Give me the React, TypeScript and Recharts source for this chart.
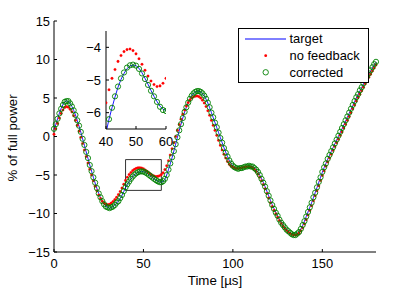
import React from 'react';
import { ComposedChart, Line, XAxis, YAxis, ReferenceArea, Legend, CartesianGrid } from 'recharts';

const FONT = "'Liberation Sans', Arial, Helvetica, sans-serif";

// sample times in µs (one sample per µs)
const TIME: number[] = Array.from({ length: 181 }, (_, i) => i);

const TARGET = [
  0.9, 1.55, 2.3, 3.0, 3.65, 4.15, 4.5, 4.62, 4.55, 4.3,
  3.9, 3.4, 2.8, 2.1, 1.35, 0.55, -0.3, -1.15, -2.0, -2.85,
  -3.7, -4.5, -5.3, -6.05, -6.75, -7.4, -7.95, -8.4, -8.8, -9.05,
  -9.22, -9.3, -9.25, -9.1, -8.9, -8.65, -8.38, -8.05, -7.65, -7.15,
  -6.62, -6.2, -5.85, -5.52, -5.22, -4.98, -4.8, -4.65, -4.57, -4.54,
  -4.56, -4.64, -4.78, -4.95, -5.13, -5.32, -5.5, -5.66, -5.8, -5.9,
  -5.93, -5.85, -5.55, -5.0, -4.3, -3.55, -2.75, -1.9, -1.0, -0.1,
  0.75, 1.6, 2.4, 3.15, 3.8, 4.4, 4.9, 5.3, 5.58, 5.76,
  5.85, 5.87, 5.78, 5.55, 5.25, 4.85, 4.35, 3.75, 3.1, 2.45,
  1.8, 1.15, 0.5, -0.15, -0.8, -1.45, -2.05, -2.6, -3.1, -3.5,
  -3.8, -4.0, -4.1, -4.15, -4.13, -4.08, -4.0, -3.93, -3.88, -3.85,
  -3.86, -3.92, -4.05, -4.3, -4.6, -5.0, -5.45, -5.95, -6.5, -7.1,
  -7.7, -8.3, -8.85, -9.35, -9.85, -10.3, -10.75, -11.15, -11.5, -11.8,
  -12.05, -12.3, -12.5, -12.65, -12.72, -12.75, -12.6, -12.35, -12.0, -11.55,
  -11.0, -10.4, -9.8, -9.2, -8.6, -7.95, -7.3, -6.65, -5.95, -5.3,
  -4.65, -4.05, -3.5, -2.95, -2.45, -1.95, -1.45, -0.95, -0.45, 0.0,
  0.5, 1.0, 1.5, 2.0, 2.5, 3.0, 3.5, 4.0, 4.5, 5.0,
  5.45, 5.9, 6.35, 6.8, 7.25, 7.7, 8.1, 8.5, 8.9, 9.3,
  9.65,
];

const NO_FEEDBACK = [
  0.3, 1.0, 1.7, 2.4, 3.0, 3.45, 3.78, 3.88, 3.8, 3.55,
  3.2, 2.7, 2.1, 1.45, 0.7, -0.1, -0.9, -1.75, -2.6, -3.45,
  -4.25, -5.0, -5.75, -6.45, -7.05, -7.6, -8.05, -8.4, -8.65, -8.8,
  -8.85, -8.8, -8.65, -8.45, -8.2, -7.9, -7.55, -7.15, -6.7, -6.2,
  -5.7, -5.3, -4.95, -4.68, -4.43, -4.25, -4.13, -4.07, -4.05, -4.1,
  -4.2, -4.35, -4.52, -4.7, -4.88, -5.03, -5.14, -5.2, -5.18, -5.1,
  -4.95, -4.7, -4.3, -3.8, -3.15, -2.4, -1.6, -0.8, 0.0, 0.8,
  1.55, 2.25, 2.9, 3.45, 3.95, 4.4, 4.75, 5.0, 5.15, 5.23,
  5.25, 5.18, 5.0, 4.72, 4.35, 3.9, 3.35, 2.75, 2.1, 1.45,
  0.8, 0.15, -0.5, -1.15, -1.75, -2.3, -2.8, -3.25, -3.6, -3.85,
  -4.0, -4.1, -4.15, -4.15, -4.1, -4.05, -4.0, -3.95, -3.92, -3.93,
  -3.98, -4.08, -4.27, -4.55, -4.9, -5.3, -5.75, -6.25, -6.8, -7.4,
  -8.0, -8.6, -9.1, -9.6, -10.05, -10.5, -10.9, -11.3, -11.65, -11.95,
  -12.2, -12.42, -12.6, -12.72, -12.78, -12.8, -12.72, -12.55, -12.25, -11.85,
  -11.35, -10.8, -10.2, -9.6, -9.0, -8.35, -7.7, -7.05, -6.4, -5.7,
  -5.05, -4.45, -3.85, -3.3, -2.8, -2.3, -1.8, -1.3, -0.8, -0.35,
  0.15, 0.6, 1.1, 1.6, 2.1, 2.6, 3.1, 3.6, 4.1, 4.6,
  5.05, 5.5, 5.95, 6.4, 6.85, 7.3, 7.7, 8.1, 8.5, 8.9,
  9.3,
];

const CORRECTED = [
  1.0, 1.6, 2.3, 3.0, 3.6, 4.1, 4.5, 4.6, 4.6, 4.3,
  3.9, 3.4, 2.8, 2.1, 1.4, 0.6, -0.3, -1.1, -2.0, -2.8,
  -3.7, -4.5, -5.3, -6.0, -6.7, -7.4, -7.9, -8.4, -8.8, -9.1,
  -9.2, -9.3, -9.2, -9.1, -8.9, -8.6, -8.4, -8.0, -7.6, -7.1,
  -6.6, -6.2, -5.85, -5.5, -5.2, -4.95, -4.77, -4.62, -4.55, -4.53,
  -4.56, -4.66, -4.8, -4.97, -5.15, -5.33, -5.5, -5.67, -5.82, -5.92,
  -5.95, -5.8, -5.5, -5.0, -4.3, -3.5, -2.7, -1.9, -1.0, -0.1,
  0.8, 1.6, 2.4, 3.2, 3.8, 4.4, 4.9, 5.3, 5.6, 5.8,
  5.9, 5.9, 5.8, 5.6, 5.3, 4.9, 4.4, 3.8, 3.1, 2.5,
  1.8, 1.2, 0.5, -0.2, -0.8, -1.5, -2.1, -2.6, -3.1, -3.5,
  -3.8, -4.0, -4.1, -4.2, -4.1, -4.1, -4.0, -3.9, -3.9, -3.8,
  -3.9, -3.9, -4.1, -4.3, -4.6, -5.0, -5.5, -6.0, -6.5, -7.1,
  -7.7, -8.3, -8.9, -9.4, -9.9, -10.3, -10.8, -11.2, -11.5, -11.8,
  -12.1, -12.3, -12.5, -12.7, -12.8, -12.8, -12.6, -12.4, -12.0, -11.5,
  -11.0, -10.4, -9.8, -9.2, -8.6, -7.9, -7.3, -6.6, -5.9, -5.3,
  -4.6, -4.0, -3.5, -2.9, -2.4, -1.9, -1.4, -0.9, -0.4, 0.1,
  0.6, 1.1, 1.6, 2.1, 2.6, 3.1, 3.6, 4.1, 4.6, 5.1,
  5.5, 6.0, 6.4, 6.9, 7.3, 7.8, 8.2, 8.6, 9.0, 9.4,
  9.7,
];

const SERIES_NAMES = ['target', 'no feedback', 'corrected'];

const MAIN_X_DOMAIN = [0, 180];
const MAIN_X_TICKS = [0, 50, 100, 150];
const MAIN_Y_DOMAIN = [-15, 15];
const MAIN_Y_TICKS = [-15, -10, -5, 0, 5, 10, 15];

const INSET_X_DOMAIN = [40, 60];
const INSET_X_TICKS = [40, 50, 60];
const INSET_Y_DOMAIN = [-6.5, -3.5];
const INSET_Y_TICKS = [-6, -5, -4];

// zoom box drawn on main plot (x range, y range)
const ZOOM_X = [40, 60];
const ZOOM_Y = [-7, -3];

const X_TITLE = 'Time [µs]';
const Y_TITLE = '% of full power';

const data = TIME.map((t, i) => ({
  t,
  target: TARGET[i],
  nofb: NO_FEEDBACK[i],
  corr: CORRECTED[i],
}));
const insetData = data.filter((d) => d.t >= INSET_X_DOMAIN[0] && d.t <= INSET_X_DOMAIN[1]);

const fmt = (v: number) => String(v).replace('-', '\u2212');
const tickStyle = { fontSize: 12.9, fill: '#000', fontFamily: FONT };

const BLUE = '#0000ff';
const RED = '#ff0000';
const GREEN = '#008000';

const redDot = { r: 1.3, fill: RED, stroke: RED, strokeWidth: 0.2 };
const greenDot = { r: 2.6, fill: 'none', stroke: GREEN, strokeWidth: 0.9 };

const LegendBox = () => (
  <svg width={131} height={55} style={{ display: 'block' }}>
    <rect x={0.5} y={0.5} width={130} height={54} fill="#fff" stroke="#000" strokeWidth={1} />
    <line x1={7} x2={48} y1={11} y2={11} stroke={BLUE} strokeWidth={1} />
    <circle cx={27.7} cy={27.7} r={1.4} fill={RED} />
    <circle cx={27.7} cy={44.3} r={2.7} fill="none" stroke={GREEN} strokeWidth={0.9} />
    {SERIES_NAMES.map((n, i) => (
      <text key={n} x={51.5} y={14.5 + i * 17} fontSize={12.9} fontFamily={FONT} fill="#000">
        {n}
      </text>
    ))}
  </svg>
);

export default function App() {
  return (
    <div style={{ position: 'absolute', left: 0, top: 0, width: 415, height: 290, background: '#fff' }}>
      <ComposedChart width={415} height={290} data={data} margin={{ top: 21, right: 39, bottom: 0, left: 0 }}>
        <XAxis
          xAxisId="b"
          dataKey="t"
          type="number"
          domain={MAIN_X_DOMAIN}
          ticks={MAIN_X_TICKS}
          interval={0}
          height={38}
          tickSize={-3}
          tickMargin={10}
          tick={tickStyle}
          axisLine={{ stroke: '#000' }}
          tickLine={{ stroke: '#000' }}
        />
        <XAxis
          xAxisId="t"
          orientation="top"
          dataKey="t"
          type="number"
          domain={MAIN_X_DOMAIN}
          ticks={MAIN_X_TICKS}
          interval={0}
          height={0}
          tickSize={-3}
          tick={false}
          allowDataOverflow
          axisLine={{ stroke: '#000' }}
          tickLine={{ stroke: '#000' }}
        />
        <YAxis
          yAxisId="l"
          type="number"
          domain={MAIN_Y_DOMAIN}
          ticks={MAIN_Y_TICKS}
          interval={0}
          width={54}
          tickSize={-3}
          tickMargin={7}
          tick={tickStyle}
          tickFormatter={fmt}
          axisLine={{ stroke: '#000' }}
          tickLine={{ stroke: '#000' }}
        />
        <YAxis
          yAxisId="r"
          orientation="right"
          type="number"
          domain={MAIN_Y_DOMAIN}
          ticks={MAIN_Y_TICKS}
          interval={0}
          width={0}
          tickSize={-3}
          tick={false}
          allowDataOverflow
          axisLine={{ stroke: '#000' }}
          tickLine={{ stroke: '#000' }}
        />
        <ReferenceArea
          xAxisId="b"
          yAxisId="l"
          x1={ZOOM_X[0]}
          x2={ZOOM_X[1]}
          y1={ZOOM_Y[0]}
          y2={ZOOM_Y[1]}
          fill="none"
          fillOpacity={0}
          stroke="#000"
          strokeWidth={0.8}
        />
        <Line xAxisId="b" yAxisId="l" name={SERIES_NAMES[0]} dataKey="target" type="linear" stroke={BLUE} strokeWidth={0.9} dot={false} activeDot={false} isAnimationActive={false} />
        <Line xAxisId="b" yAxisId="l" name={SERIES_NAMES[1]} dataKey="nofb" type="linear" stroke="none" dot={redDot} activeDot={false} isAnimationActive={false} />
        <Line xAxisId="b" yAxisId="l" name={SERIES_NAMES[2]} dataKey="corr" type="linear" stroke="none" dot={greenDot} activeDot={false} isAnimationActive={false} />
        <Legend
          layout="vertical"
          align="center"
          verticalAlign="middle"
          content={() => <LegendBox />}
          wrapperStyle={{ left: 238, top: 28, width: 131, height: 55 }}
        />
      </ComposedChart>

      <div style={{ position: 'absolute', left: 70, top: 25 }}>
        <ComposedChart width={115} height={125} data={insetData} margin={{ top: 6, right: 19, bottom: 0, left: 0 }}>
          <CartesianGrid xAxisId="b" yAxisId="l" fill="#fff" horizontal={false} vertical={false} stroke="none" />
          <XAxis
            xAxisId="b"
            dataKey="t"
            type="number"
            domain={INSET_X_DOMAIN}
            ticks={INSET_X_TICKS}
            interval={0}
            height={21}
            tickSize={-3}
            tickMargin={11}
            tick={tickStyle}
            allowDataOverflow
            axisLine={{ stroke: '#000' }}
            tickLine={{ stroke: '#000' }}
          />
          <XAxis
            xAxisId="t"
            orientation="top"
            dataKey="t"
            type="number"
            domain={INSET_X_DOMAIN}
            ticks={INSET_X_TICKS}
            interval={0}
            height={0}
            tickSize={-3}
            tick={false}
            allowDataOverflow
            axisLine={{ stroke: '#000' }}
            tickLine={{ stroke: '#000' }}
          />
          <YAxis
            yAxisId="l"
            type="number"
            domain={INSET_Y_DOMAIN}
            ticks={INSET_Y_TICKS}
            interval={0}
            width={36}
            tickSize={-3}
            tickMargin={8}
            tick={tickStyle}
            tickFormatter={fmt}
            allowDataOverflow
            axisLine={{ stroke: '#000' }}
            tickLine={{ stroke: '#000' }}
          />
          <YAxis
            yAxisId="r"
            orientation="right"
            type="number"
            domain={INSET_Y_DOMAIN}
            ticks={INSET_Y_TICKS}
            interval={0}
            width={0}
            tickSize={-3}
            tick={false}
            allowDataOverflow
            axisLine={{ stroke: '#000' }}
            tickLine={{ stroke: '#000' }}
          />
          <Line xAxisId="b" yAxisId="l" dataKey="target" type="linear" stroke={BLUE} strokeWidth={0.9} dot={false} activeDot={false} isAnimationActive={false} />
          <Line xAxisId="b" yAxisId="l" dataKey="nofb" type="linear" stroke="none" dot={redDot} activeDot={false} isAnimationActive={false} />
          <Line xAxisId="b" yAxisId="l" dataKey="corr" type="linear" stroke="none" dot={greenDot} activeDot={false} isAnimationActive={false} />
        </ComposedChart>
      </div>

      <svg width={415} height={290} style={{ position: 'absolute', left: 0, top: 0, pointerEvents: 'none' }}>
        <text x={215} y={284.5} textAnchor="middle" fontSize={13.3} fontFamily={FONT} fill="#000">
          {X_TITLE}
        </text>
        <text
          x={17}
          y={138}
          textAnchor="middle"
          fontSize={13.3}
          fontFamily={FONT}
          fill="#000"
          transform="rotate(-90 17 138)"
        >
          {Y_TITLE}
        </text>
      </svg>
    </div>
  );
}
